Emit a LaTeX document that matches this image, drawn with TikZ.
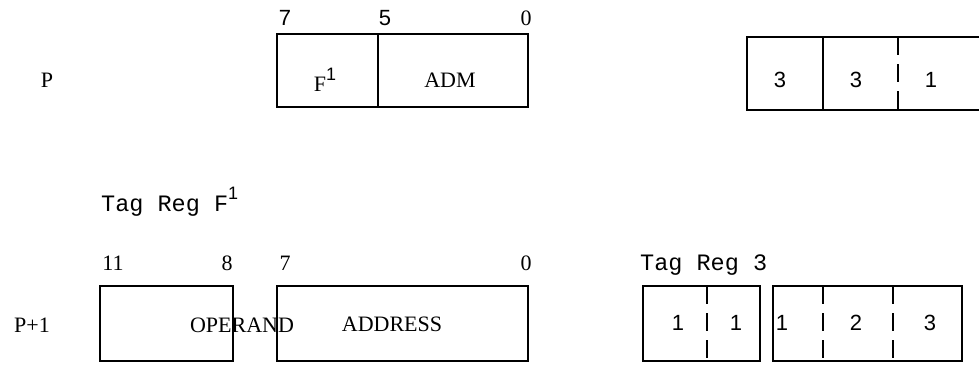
\documentclass[tikz,border=0pt]{standalone}
\usepackage{fontspec}
\setmainfont{Liberation Serif}
\newfontfamily\sansf{Liberation Sans}
\newfontfamily\monof{Liberation Mono}
\tikzset{
  boxline/.style={line width=2.2pt},
  dashdiv/.style={line width=2.2pt, dash pattern=on 18pt off 9pt},
  serif/.style={inner sep=0pt, font=\fontsize{22}{26}\selectfont},
  sansnum/.style={inner sep=0pt, font=\sansf\fontsize{22}{26}\selectfont},
  mono/.style={inner sep=0pt, anchor=base west, font=\monof\fontsize{23.5}{26}\selectfont},
}
\newcommand{\supone}{\raisebox{0.5em}{\sansf\fontsize{18}{18}\selectfont 1}}
\begin{document}
\begin{tikzpicture}[x=1pt,y=-1pt]
\useasboundingbox (0,0) rectangle (979,364);
% ---- top row ----
\node[serif] (p) at (47,80) {P};
\node[sansnum] (b7) at (285,18) {7};
\node[sansnum] (b5) at (385,18) {5};
\node[serif] (b0) at (526,18) {0};
\draw[boxline] (277,34) rectangle (528,107);
\draw[boxline] (378,34) -- (378,107);
\node[serif] (f1) at (325,80) {F\supone};
\node[serif] (adm) at (450,80) {ADM};
% top right register
\draw[boxline] (979,37) -- (747,37) -- (747,110) -- (979,110);
\draw[boxline] (823,37) -- (823,110);
\draw[dashdiv] (898,37) -- (898,110);
\node[sansnum] (t3a) at (780,80) {3};
\node[sansnum] (t3b) at (856,80) {3};
\node[sansnum] (t1) at (931,80) {1};
% ---- bottom row ----
\node[mono] (tagf) at (101,211) {Tag Reg F\supone};
\node[serif] (n11) at (113,263) {11};
\node[serif] (n8) at (227,263) {8};
\node[serif] (n7) at (285,263) {7};
\node[serif] (n0) at (526,263) {0};
\node[serif] (p1) at (32,325) {P+1};
\draw[boxline] (100,286) rectangle (233,361);
\draw[boxline] (277,286) rectangle (528,361);
\node[serif] (oper) at (242,325) {OPERAND};
\node[serif] (addr) at (392,324) {ADDRESS};
% tag reg 3
\node[mono] (tag3) at (640,270) {Tag Reg 3};
\draw[boxline] (643,286) rectangle (760,361);
\draw[dashdiv] (707,286) -- (707,361);
\draw[boxline] (773,286) rectangle (962,361);
\draw[dashdiv] (823,286) -- (823,361);
\draw[dashdiv] (893,286) -- (893,361);
\node[sansnum] (r1a) at (678,323) {1};
\node[sansnum] (r1b) at (736,323) {1};
\node[sansnum] (r1c) at (782,323) {1};
\node[sansnum] (r2) at (856,323) {2};
\node[sansnum] (r3) at (930,323) {3};
\end{tikzpicture}
\end{document}
